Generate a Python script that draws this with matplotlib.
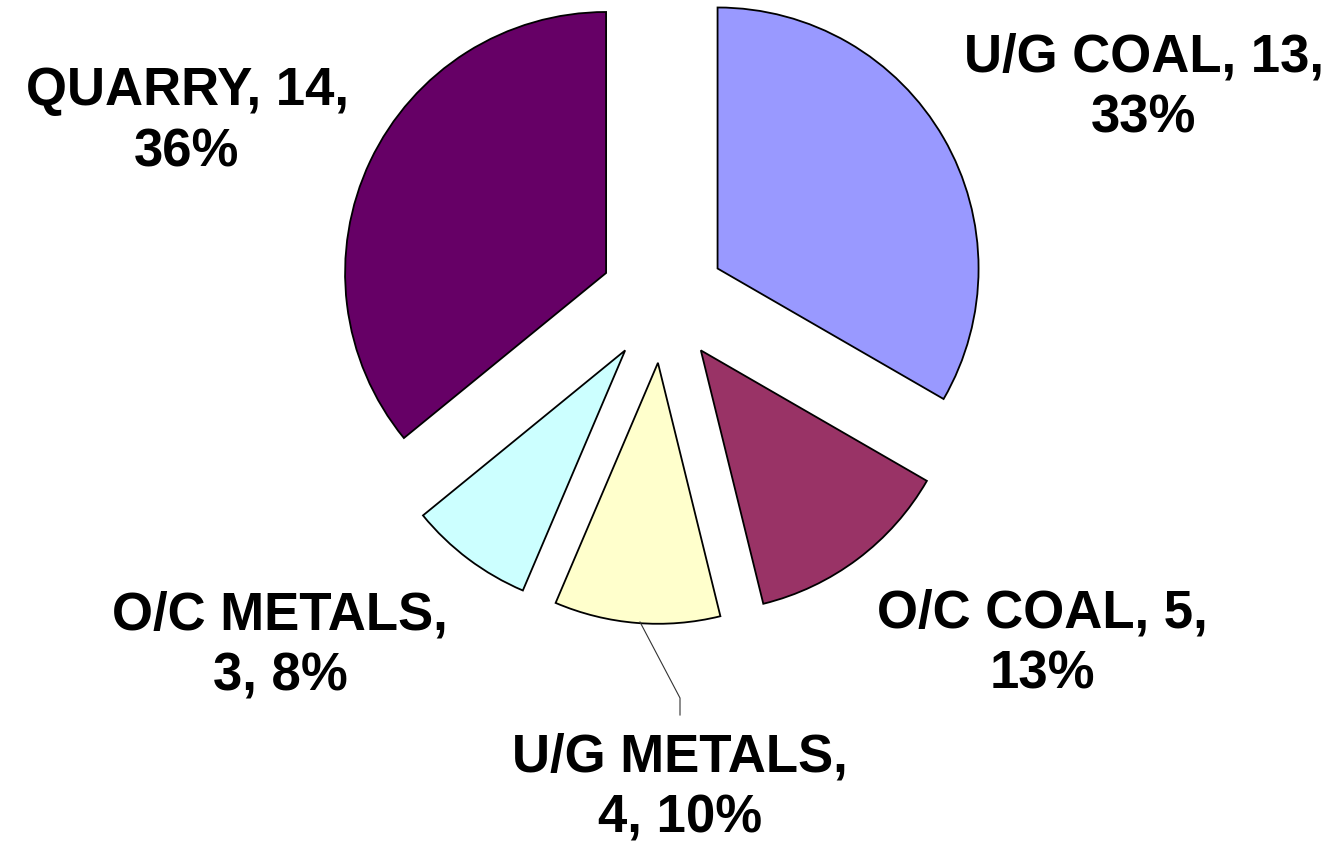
import matplotlib.pyplot as plt

# Mining fatalities by sector
sectors = ["U/G COAL", "O/C COAL", "U/G METALS", "O/C METALS", "QUARRY"]
counts = [13, 5, 4, 3, 14]
colors = ["#9999FF", "#993366", "#FFFFCC", "#CCFFFF", "#660066"]

total = sum(counts)
pct = [round(100 * c / total) for c in counts]
labels = [
    f"{sectors[0]}, {counts[0]},\n{pct[0]}%",
    f"{sectors[1]}, {counts[1]},\n{pct[1]}%",
    f"{sectors[2]},\n{counts[2]}, {pct[2]}%",
    f"{sectors[3]},\n{counts[3]}, {pct[3]}%",
    f"{sectors[4]}, {counts[4]},\n{pct[4]}%",
]

# label centres in pixel coords (y down)
label_pos = [(1144, 88), (1042, 644), (680, 788), (280, 646), (187, 122)]

fig = plt.figure(figsize=(13.34, 8.52), dpi=100)
ax = fig.add_axes([0, 0, 1, 1])

# y axis is flipped, so counterclock in data space = clockwise on screen
ax.pie(counts, colors=colors, startangle=-90, counterclock=True,
       center=(663, 300), radius=261, explode=[63] * len(counts),
       wedgeprops=dict(edgecolor="black", linewidth=1.3), frame=True)
ax.set_xlim(0, 1334)
ax.set_ylim(852, 0)
ax.set_aspect("equal")
ax.axis("off")

for lab, (x, y) in zip(labels, label_pos):
    ax.text(x, y, lab, ha="center", va="center", multialignment="center",
            fontsize=38, fontweight="bold", family="Liberation Sans",
            linespacing=1.3)

# leader line for U/G METALS
ax.plot([640, 680, 680], [622, 698, 715], color="#333333", linewidth=0.8)

fig.savefig("out.png", dpi=100)
